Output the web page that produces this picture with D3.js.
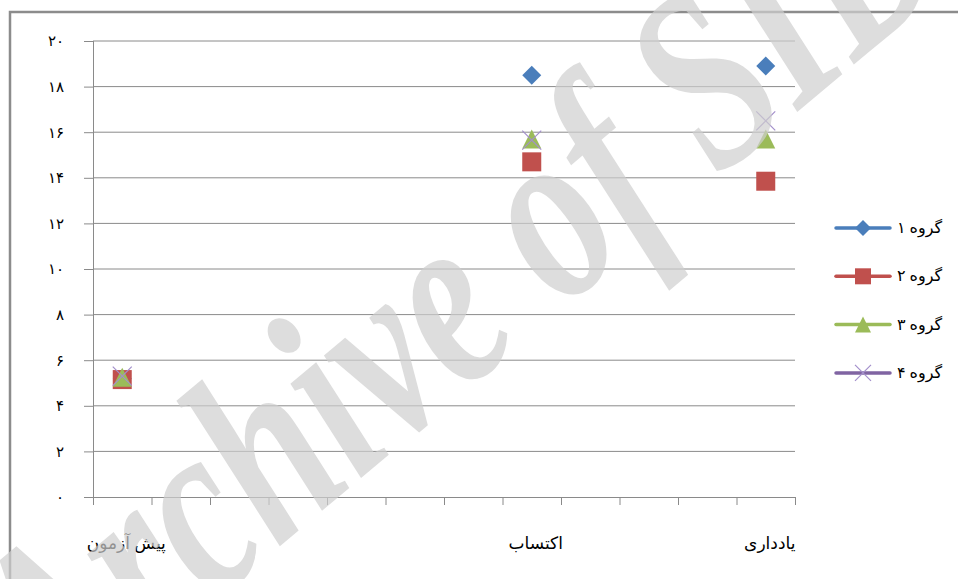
<!DOCTYPE html>
<html>
<head>
<meta charset="utf-8">
<script src="https://cdnjs.cloudflare.com/ajax/libs/d3/7.8.5/d3.min.js"></script>
<style>
body { margin: 0; background: #fff; }
text { font-family: "Liberation Serif", "DejaVu Sans", serif; }
</style>
</head>
<body>
<div id="chart"></div>
<script>
// 12 category slots on the x axis, only three of them are labelled / used
var categories = ["پیش آزمون", "", "", "", "", "", "", "اکتساب", "", "", "", "یادداری"];
var seriesNames = ["گروه ۱", "گروه ۲", "گروه ۳", "گروه ۴"];
var group1 = [5.2, null, null, null, null, null, null, 18.5, null, null, null, 18.9];
var group2 = [5.15, null, null, null, null, null, null, 14.7, null, null, null, 13.85];
var group3 = [5.25, null, null, null, null, null, null, 15.7, null, null, null, 15.7];
var group4 = [5.3, null, null, null, null, null, null, 15.65, null, null, null, 16.5];
var yTicks = [0, 2, 4, 6, 8, 10, 12, 14, 16, 18, 20];

var svgWidth = 958;
var svgHeight = 579;
var margin = {top: 41, right: 163, bottom: 82, left: 93};
var width = svgWidth - margin.left - margin.right;
var height = svgHeight - margin.top - margin.bottom;

var colors = ["#4a7ebb", "#c0504d", "#9bbb59", "#8064a2"];
var shapes = ["diamond", "square", "triangle", "x"];
var allSeries = [group1, group2, group3, group4];

var fa = d3.formatLocale({
  decimal: ".", thousands: ",", grouping: [3], currency: ["", ""],
  numerals: ["۰", "۱", "۲", "۳", "۴", "۵", "۶", "۷", "۸", "۹"]
});

var svg = d3.select("#chart")
  .append("svg")
  .attr("width", svgWidth)
  .attr("height", svgHeight);

// outer frame (only top & left visible)
svg.append("path")
  .attr("d", "M10," + svgHeight + " L10,12 L" + svgWidth + ",12")
  .attr("fill", "none")
  .attr("stroke", "#8c8c8c")
  .attr("stroke-width", 2.5);

var chartGroup = svg.append("g")
  .attr("transform", `translate(${margin.left}, ${margin.top})`);

var xBand = d3.scaleBand()
  .domain(d3.range(categories.length))
  .range([0, width])
  .padding(0);

var xEdge = d3.scaleLinear()
  .domain([0, categories.length])
  .range([0, width]);

var yScale = d3.scaleLinear()
  .domain([0, 20])
  .range([height, 0]);

// gridlines
chartGroup.append("g")
  .selectAll("line")
  .data(yTicks.filter(d => d > 0))
  .enter()
  .append("line")
  .attr("x1", 0)
  .attr("x2", width)
  .attr("y1", d => yScale(d))
  .attr("y2", d => yScale(d))
  .attr("stroke", "#8a8a8a")
  .attr("stroke-width", 1);

var leftAxis = d3.axisLeft(yScale)
  .tickValues(yTicks)
  .tickSize(9)
  .tickPadding(20)
  .tickFormat(fa.format("d"));

var yAxisG = chartGroup.append("g").call(leftAxis);
yAxisG.select(".domain").attr("stroke", "#8a8a8a").attr("d", `M0.5,0V${height}`);
yAxisG.selectAll(".tick line").attr("stroke", "#8a8a8a");
yAxisG.selectAll(".tick text")
  .attr("font-size", 15)
  .attr("letter-spacing", 3)
  .attr("fill", "#000");

var bottomAxis = d3.axisBottom(xEdge)
  .tickValues(d3.range(categories.length + 1))
  .tickSize(8)
  .tickFormat("");

var xAxisG = chartGroup.append("g")
  .attr("transform", `translate(0, ${height})`)
  .call(bottomAxis);
xAxisG.select(".domain").attr("stroke", "#8a8a8a").attr("d", `M-9,0.5H${width}`);
xAxisG.selectAll(".tick line").attr("stroke", "#8a8a8a");

chartGroup.append("g")
  .selectAll("text")
  .data(categories)
  .enter()
  .append("text")
  .attr("x", (d, i) => xBand(i) + xBand.bandwidth() / 2 + 4)
  .attr("y", height + 52)
  .attr("text-anchor", "middle")
  .attr("font-size", 17)
  .attr("fill", "#000")
  .text(d => d);

function drawMarker(g, shape, color, size) {
  var h = size / 2;
  if (shape === "diamond") {
    g.append("path")
      .attr("d", `M0,${-h}L${h},0L0,${h}L${-h},0Z`)
      .attr("fill", color);
  } else if (shape === "square") {
    g.append("rect")
      .attr("x", -h).attr("y", -h)
      .attr("width", size).attr("height", size)
      .attr("fill", color);
  } else if (shape === "triangle") {
    g.append("path")
      .attr("d", `M0,${-h}L${h},${h}L${-h},${h}Z`)
      .attr("fill", color);
  } else {
    g.append("path")
      .attr("d", `M${-h},${-h}L${h},${h}M${h},${-h}L${-h},${h}`)
      .attr("stroke", "#a38fcb")
      .attr("stroke-width", 1.2)
      .attr("fill", "none");
  }
}

allSeries.forEach(function(values, s) {
  var pts = chartGroup.append("g")
    .selectAll("g")
    .data(values.map((v, i) => ({i: i, v: v})).filter(d => d.v !== null))
    .enter()
    .append("g")
    .attr("transform", d => `translate(${xBand(d.i) + xBand.bandwidth() / 2}, ${yScale(d.v)})`);
  pts.each(function() { drawMarker(d3.select(this), shapes[s], colors[s], 19); });
});

// legend
var legend = svg.append("g");
seriesNames.forEach(function(name, i) {
  var row = legend.append("g")
    .attr("transform", `translate(836, ${228 + i * 48.3})`);
  row.append("line")
    .attr("x1", 0).attr("x2", 54)
    .attr("stroke", colors[i])
    .attr("stroke-width", 3.5)
    .attr("stroke-linecap", "round");
  var m = row.append("g").attr("transform", "translate(27,0)");
  drawMarker(m, shapes[i], colors[i], 16);
  row.append("text")
    .attr("x", 61)
    .attr("y", 5)
    .attr("font-size", 16)
    .attr("fill", "#000")
    .text(name);
});

// watermark
svg.append("g")
  .attr("transform", "translate(267,490) rotate(-40) scale(0.92,1.25)")
  .append("text")
  .attr("x", -340)
  .attr("y", 41)
  .attr("font-family", "Liberation Serif")
  .attr("font-style", "italic")
  .attr("font-weight", "bold")
  .attr("font-size", 205)
  .attr("fill", "#cfcfcf")
  .attr("opacity", 0.7)
  .text("Archive of SID");
</script>
</body>
</html>
